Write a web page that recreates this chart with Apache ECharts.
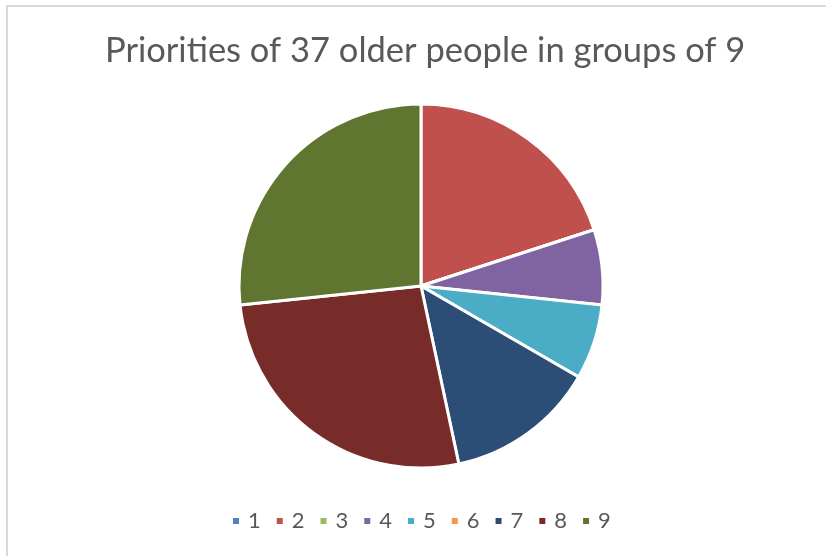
<!DOCTYPE html>
<html>
<head>
<meta charset="utf-8">
<script src="https://cdn.jsdelivr.net/npm/echarts@6/dist/echarts.min.js"></script>
<style>
  html, body { margin: 0; padding: 0; background: #fff; }
  #chart { width: 826px; height: 556px; }
</style>
</head>
<body>
<div id="chart"></div>
<script>
// Priority groups and how many people picked each
const groups = ['1', '2', '3', '4', '5', '6', '7', '8', '9'];
const counts = [0, 3, 0, 1, 1, 0, 2, 4, 4];
const colors = ['#4F81BD', '#C0504D', '#9BBB59', '#8064A2', '#4BACC6', '#F79646', '#2C4D75', '#772C2A', '#5F7530'];
const titleText = 'Priorities of 37 older people in groups of 9';

const chart = echarts.init(document.getElementById('chart'), null, { renderer: 'canvas' });

chart.setOption({
  backgroundColor: '#ffffff',
  animation: false,
  color: colors,
  title: {
    text: titleText,
    left: 100,
    top: 28,
    textStyle: {
      fontFamily: 'Lato',
      fontSize: 34.5,
      fontWeight: 'normal',
      color: '#595959'
    }
  },
  legend: {
    data: groups,
    left: 231,
    top: 510,
    padding: 0,
    icon: 'rect',
    itemWidth: 8,
    itemHeight: 8,
    itemGap: 14,
    textStyle: {
      fontFamily: 'Lato',
      fontSize: 22,
      color: '#595959',
      padding: [0, 0, 0, 3]
    }
  },
  graphic: [
    // chart-area frame (top and left edges)
    { type: 'rect', shape: { x: 6, y: 5, width: 820, height: 2 }, style: { fill: '#d9d9d9' }, silent: true },
    { type: 'rect', shape: { x: 6, y: 5, width: 2, height: 551 }, style: { fill: '#d9d9d9' }, silent: true }
  ],
  series: [{
    type: 'pie',
    center: [421, 286],
    radius: [0, 182],
    startAngle: 90,
    clockwise: true,
    label: { show: false },
    labelLine: { show: false },
    itemStyle: { borderColor: '#ffffff', borderWidth: 3 },
    emphasis: { disabled: true },
    data: groups.map((g, i) => ({ name: g, value: counts[i] }))
  }]
});
</script>
</body>
</html>
